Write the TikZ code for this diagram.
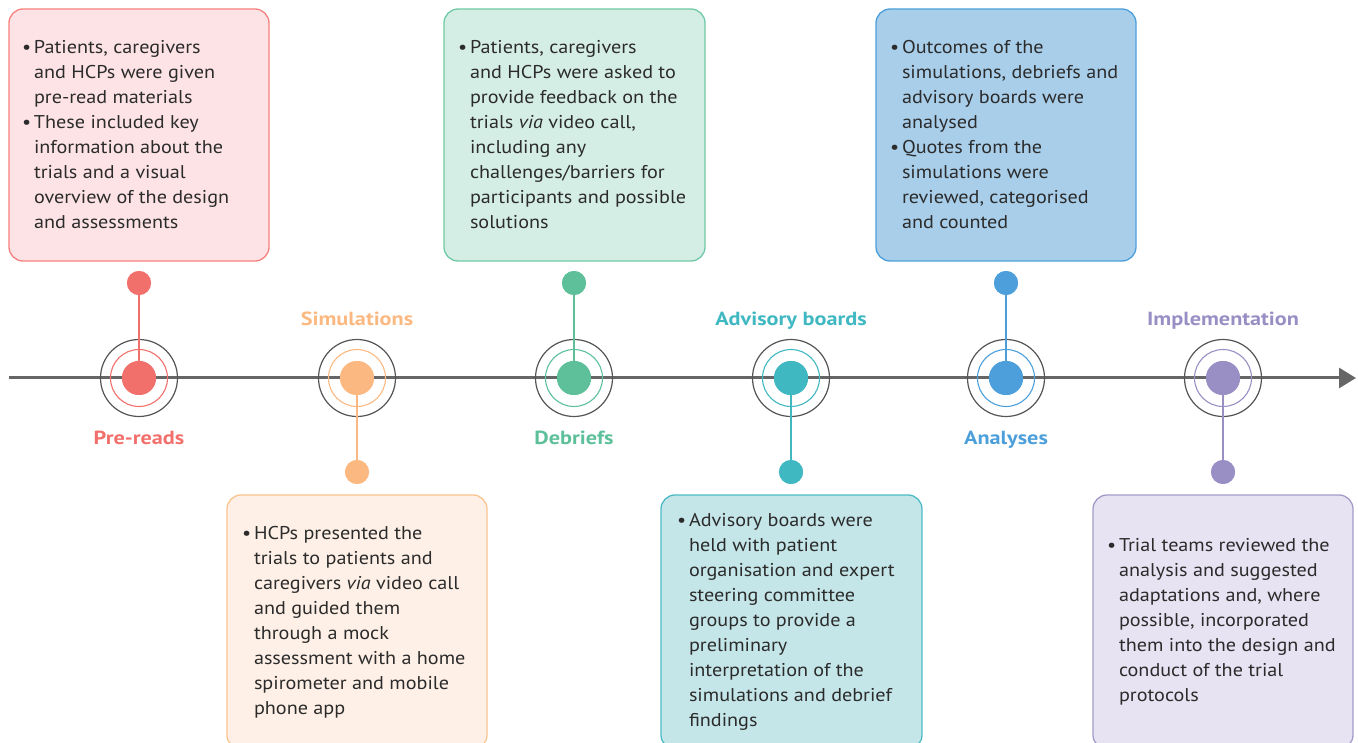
\documentclass[tikz,border=0pt]{standalone}
\usepackage{fontspec}
\setmainfont{PT Sans}[FakeStretch=1.09]
\newfontfamily\labelfont{PT Sans}[FakeStretch=1.17]
\usetikzlibrary{arrows.meta}

\definecolor{ink}{HTML}{2B2B2B}
\definecolor{axisgray}{HTML}{666666}
\definecolor{ringgray}{HTML}{555555}
% phase colours: accent, box fill, box border
\definecolor{redA}{HTML}{F2706B}\definecolor{redF}{HTML}{FDE3E6}\definecolor{redB}{HTML}{F4817E}
\definecolor{orgA}{HTML}{FBB981}\definecolor{orgF}{HTML}{FEF0E6}\definecolor{orgB}{HTML}{FBC48F}
\definecolor{grnA}{HTML}{5DC09A}\definecolor{grnF}{HTML}{D5EEE5}\definecolor{grnB}{HTML}{6FC9A6}
\definecolor{telA}{HTML}{3FB8C2}\definecolor{telF}{HTML}{C5E6E9}\definecolor{telB}{HTML}{4DBBC6}
\definecolor{bluA}{HTML}{4C9FDA}\definecolor{bluF}{HTML}{A8CEEA}\definecolor{bluB}{HTML}{4C9FDA}
\definecolor{purA}{HTML}{9A8FC5}\definecolor{purF}{HTML}{E7E3F2}\definecolor{purB}{HTML}{A49BCB}

\newcommand\bitem{\makebox[12pt][l]{•}}
\newcommand\cont{\hspace*{12pt}}

\tikzset{
  x=1pt, y=-1pt,
  every node/.style={inner sep=0pt, outer sep=0pt},
  panel/.style args={#1/#2}{draw=#2, fill=#1, line width=1.3pt, rounded corners=14pt},
  body/.style={anchor=west, align=left, text=ink, font=\fontsize{18.5}{25}\selectfont},
  ring/.style={circle, draw=ringgray, line width=1.2pt, minimum size=77pt},
  halo/.style={circle, draw=#1, line width=1.1pt, minimum size=57pt},
  hub/.style={circle, fill=#1, minimum size=34pt},
  dot/.style={circle, fill=#1, minimum size=24pt},
  stem/.style={draw=#1, line width=1.3pt},
  phase/.style={anchor=base, text=#1, font=\labelfont\fontsize{19}{24}\selectfont\bfseries},
}

\begin{document}
\begin{tikzpicture}
\useasboundingbox (0,0) rectangle (1358,743);
\clip (0,0) rectangle (1358,743);

% timeline axis
\coordinate (axisL) at (9,378);
\coordinate (axisR) at (1356,378);
\draw[axisgray, line width=3pt, -{Triangle[width=20pt,length=17pt]}] (axisL) -- (axisR);

% description panels
\draw[panel=redF/redB] (9,9) rectangle (269,261);
\draw[panel=grnF/grnB] (444,9) rectangle (705,261);
\draw[panel=bluF/bluB] (876,9) rectangle (1136,261);
\draw[panel=orgF/orgB] (227,495) rectangle (487,749);
\draw[panel=telF/telB] (661,495) rectangle (922,749);
\draw[panel=purF/purB] (1093,495) rectangle (1353,749);

\node[body] (t1) at (22,135) {\bitem Patients, caregivers\\
\cont and HCPs were given\\
\cont pre-read materials\\
\bitem These included key\\
\cont information about the\\
\cont trials and a visual\\
\cont overview of the design\\
\cont and assessments};

\node[body] (t3) at (458,135) {\bitem Patients, caregivers\\
\cont and HCPs were asked to\\
\cont provide feedback on the\\
\cont trials \textit{via} video call,\\
\cont including any\\
\cont challenges/barriers for\\
\cont participants and possible\\
\cont solutions};

\node[body] (t5) at (890,135) {\bitem Outcomes of the\\
\cont simulations, debriefs and\\
\cont advisory boards were\\
\cont analysed\\
\bitem Quotes from the\\
\cont simulations were\\
\cont reviewed, categorised\\
\cont and counted};

\node[body] (t2) at (242,622) {\bitem HCPs presented the\\
\cont trials to patients and\\
\cont caregivers \textit{via} video call\\
\cont and guided them\\
\cont through a mock\\
\cont assessment with a home\\
\cont spirometer and mobile\\
\cont phone app};

\node[body] (t4) at (677,622) {\bitem Advisory boards were\\
\cont held with patient\\
\cont organisation and expert\\
\cont steering committee\\
\cont groups to provide a\\
\cont preliminary\\
\cont interpretation of the\\
\cont simulations and debrief\\
\cont findings};

\node[body] (t6) at (1107,622) {\bitem Trial teams reviewed the\\
\cont analysis and suggested\\
\cont adaptations and, where\\
\cont possible, incorporated\\
\cont them into the design and\\
\cont conduct of the trial\\
\cont protocols};

% milestone markers
\foreach \n/\x/\c/\dy in {1/139/redA/283, 2/357/orgA/472, 3/574/grnA/283,
                          4/791/telA/472, 5/1006/bluA/283, 6/1223/purA/472}{
  \node[ring] (r\n) at (\x,378) {};
  \node[halo=\c] (h\n) at (\x,378) {};
  \node[dot=\c] (d\n) at (\x,\dy) {};
  \node[hub=\c] (c\n) at (\x,378) {};
  \draw[stem=\c] (d\n.center) -- (c\n.center);
  \node[hub=\c] at (c\n) {};
  \node[dot=\c] at (d\n) {};
}

% phase labels (placed by baseline)
\node[phase=redA] (l1) at (139,444) {Pre-reads};
\node[phase=orgA] (l2) at (357,326) {Simulations};
\node[phase=grnA] (l3) at (574,444) {Debriefs};
\node[phase=telA] (l4) at (791,326) {Advisory boards};
\node[phase=bluA] (l5) at (1006,444) {Analyses};
\node[phase=purA] (l6) at (1223,326) {Implementation};
\end{tikzpicture}
\end{document}
